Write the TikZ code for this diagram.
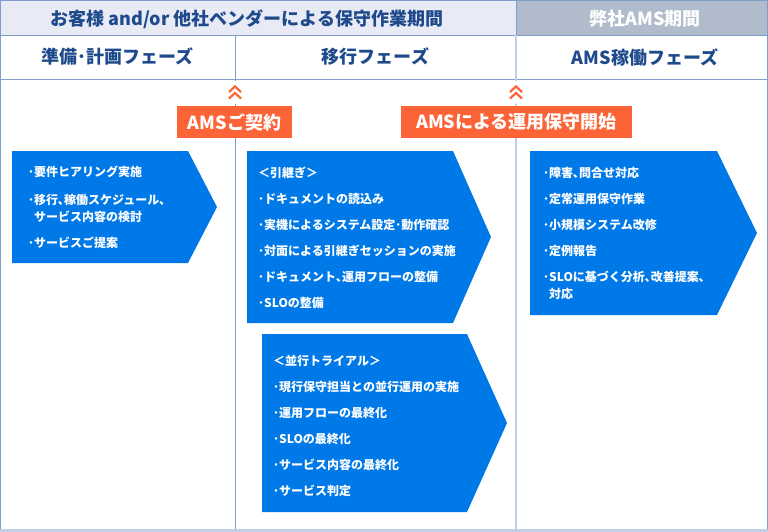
\documentclass[tikz,border=0pt]{standalone}
\usepackage{fontspec}
\setmainfont{Noto Sans CJK JP}
\usetikzlibrary{positioning}
\definecolor{headlav}{RGB}{232,234,245}
\definecolor{headgray}{RGB}{176,188,203}
\definecolor{gridblue}{RGB}{127,158,204}
\definecolor{gridlight}{RGB}{192,207,229}
\definecolor{titleblue}{RGB}{30,74,140}
\definecolor{amsorange}{RGB}{252,100,56}
\definecolor{amsblue}{RGB}{0,121,232}
\tikzset{
  gridline/.style={gridblue,line width=0.8pt},
  softline/.style={gridlight,line width=1.6pt},
  headtext/.style={font=\fontsize{18}{21}\selectfont\bfseries,text=titleblue},
  phasetext/.style={font=\fontsize{18}{22}\selectfont\bfseries,text=titleblue},
  milestone/.style={fill=amsorange,text=white,font=\fontsize{18}{22}\selectfont\bfseries,
                    minimum height=32pt,inner sep=0pt},
  phasebox/.style={fill=amsblue},
  items/.style={text=white,font=\fontsize{12}{17}\selectfont\bfseries,align=left,
                anchor=north west,inner sep=0pt},
  upmark/.style={amsorange,line width=2.2pt},
}

\begin{document}
\begin{tikzpicture}[x=1pt,y=-1pt]
  \useasboundingbox (0,0) rectangle (768,532);
  % header band
  \fill[headlav] (0,0) rectangle (516,35);
  \fill[headgray] (516,0) rectangle (768,35);
  \draw[gridline] (0.5,0.5) rectangle (767.3,530);
  \draw[gridline] (0,35) -- (768,35);
  \draw[gridline] (0,79) -- (768,79);
  \draw[gridline] (516,0) -- (516,35);
  \draw[gridline] (235,35) -- (235,530);
  \draw[softline] (516,35) -- (516,530);
  \draw[softline,line width=3pt] (0,530.5) -- (768,530.5);

  \node[headtext] (custperiod) at (247,19) {お客様 and/or 他社ベンダーによる保守作業期間};
  \node[headtext,text=white] (amsperiod) at (645,19) {弊社AMS期間};
  \node[phasetext] (prepphase) at (117.5,57) {準備･計画フェーズ};
  \node[phasetext] (shiftphase) at (375.5,57) {移行フェーズ};
  \node[phasetext] (opsphase) at (645,57) {AMS稼働フェーズ};

  % milestones
  \fill[white] (227,81) rectangle (243,104);
  \fill[white] (508,81) rectangle (524,104);
  \draw[upmark] (229,92) -- (235,86.5) -- (241,92);
  \draw[upmark] (229,98.5) -- (235,93) -- (241,98.5);
  \draw[upmark] (510,92) -- (516,86.5) -- (522,92);
  \draw[upmark] (510,98.5) -- (516,93) -- (522,98.5);
  \node[milestone,minimum width=115pt] (contract) at (234.5,122) {AMSご契約};
  \node[milestone,minimum width=231pt] (opstart) at (516.5,122) {AMSによる運用保守開始};

  % phase arrows
  \fill[phasebox] (12,151) -- (188,151) -- (217,207) -- (188,263) -- (12,263) -- cycle;
  \fill[phasebox] (247,151) -- (453,151) -- (491,237) -- (453,323) -- (247,323) -- cycle;
  \fill[phasebox] (262,334) -- (467,334) -- (507,423) -- (467,512) -- (262,512) -- cycle;
  \fill[phasebox] (530,151) -- (717,151) -- (757,233) -- (717,315) -- (530,315) -- cycle;

  \node[items] (prepitems) at (28,166)
    {･要件ヒアリング実施\\[11pt]･移行､稼働スケジュール､\\\phantom{･}サービス内容の検討\\[9pt]･サービスご提案};
  \node[items] (handover) at (258,167)
    {＜引継ぎ＞\\[9pt]･ドキュメントの読込み\\[9pt]･実機によるシステム設定･動作確認\\[9pt]%
     ･対面による引継ぎセッションの実施\\[9pt]･ドキュメント､運用フローの整備\\[9pt]･SLOの整備};
  \node[items] (trial) at (273,355)
    {＜並行トライアル＞\\[9pt]･現行保守担当との並行運用の実施\\[9pt]･運用フローの最終化\\[9pt]%
     ･SLOの最終化\\[9pt]･サービス内容の最終化\\[9pt]･サービス判定};
  \node[items] (opsitems) at (543,167)
    {･障害､問合せ対応\\[9pt]･定常運用保守作業\\[9pt]･小規模システム改修\\[9pt]･定例報告\\[9pt]%
     ･SLOに基づく分析､改善提案､\\\phantom{･}対応};
\end{tikzpicture}
\end{document}
